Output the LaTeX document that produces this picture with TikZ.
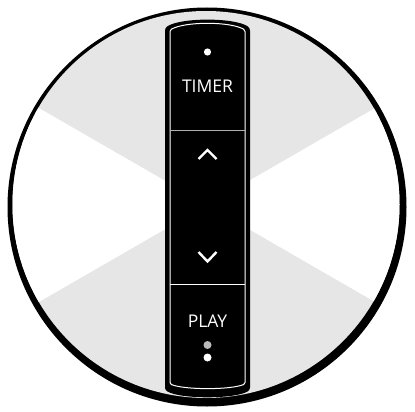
\documentclass[tikz,border=0pt]{standalone}
\usepackage{fontspec}
\setmainfont{Open Sans}
\definecolor{wedgegray}{HTML}{E6E6E6}
\definecolor{dotgray}{HTML}{BBBBBB}
\definecolor{divgray}{HTML}{B0B0B0}
\tikzset{
  panelline/.style={draw=white, line width=1pt},
  chevron/.style={draw=white, line width=2.4pt, line cap=butt, line join=miter},
  label/.style={text=white, font=\fontsize{17.5}{17.5}\selectfont, inner sep=0pt},
}
\begin{document}
\begin{tikzpicture}[x=1pt,y=-1pt]
\useasboundingbox (0,0) rectangle (415,412);
% outer ring (black, thicker at bottom right)
\fill[black] (207,207) circle[radius=199.5];
\fill[wedgegray] (206,204.5) circle[radius=193.5];
% white wedges left and right
\begin{scope}
\clip (206,204.5) circle[radius=193.5];
\fill[white] (207,205) -- (-60,205-154) -- (-60,205+154) -- cycle;
\fill[white] (207,205) -- (474,205-154) -- (474,205+154) -- cycle;
\end{scope}
% device body
\fill[black, rounded corners=2.5pt] (165,390) -- (165,28)
  .. controls (180,17.3) and (235,17.3) .. (250,28)
  -- (250,390) .. controls (235,399.3) and (180,399.3) .. (165,390) -- cycle;
% inner panel outline
\draw[panelline, rounded corners=1.5pt] (170,384) -- (170,30)
  .. controls (185,21.3) and (230,21.3) .. (245,30)
  -- (245,384) .. controls (230,390) and (185,390) .. (170,384) -- cycle;
% dividers
\coordinate (d1l) at (170,130); \coordinate (d1r) at (245,130);
\coordinate (d2l) at (170,284); \coordinate (d2r) at (245,284);
\draw[draw=divgray, line width=1pt] (d1l) -- (d1r);
\draw[draw=white, line width=1pt] (d2l) -- (d2r);
% timer
\fill[white] (207.5,52) circle[radius=3.6];
\node[label] (timer) at (207.5,86.5) {TIMER};
% chevrons
\coordinate (upl) at (198.5,159); \coordinate (upa) at (207.5,150); \coordinate (upr) at (216.5,159);
\draw[chevron] (upl) -- (upa) -- (upr);
\coordinate (dnl) at (198.5,252); \coordinate (dna) at (207.5,261.5); \coordinate (dnr) at (216.5,252);
\draw[chevron] (dnl) -- (dna) -- (dnr);
% play
\node[label] (play) at (207.5,321) {PLAY};
\fill[dotgray] (207.5,345) circle[radius=4];
\fill[white] (207.5,357.5) circle[radius=4];
\end{tikzpicture}
\end{document}
